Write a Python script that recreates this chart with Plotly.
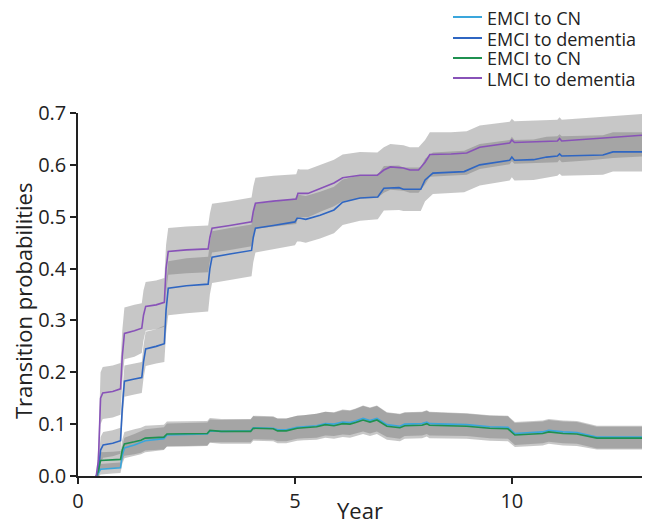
import plotly.graph_objects as go

# ---------------- data ----------------
# LMCI to dementia (purple)
t_p = [0.42, 0.47, 0.52, 0.57, 0.8, 0.98, 1.02, 1.07, 1.3, 1.47,
       1.51, 1.56, 1.8, 1.99, 2.03, 2.08, 2.5, 3.0, 3.04, 3.09,
       3.5, 4.0, 4.04, 4.09, 4.5, 5.03, 5.07, 5.12, 5.3, 5.6,
       5.9, 6.1, 6.5, 6.9, 7.05, 7.2, 7.5, 7.65, 7.85, 8.0,
       8.11, 8.6, 8.96, 9.26, 9.95, 10.0, 10.06, 11.05, 11.1, 11.15,
       11.8, 12.33, 13.0]
y_p = [0.0, 0.03, 0.15, 0.16, 0.163, 0.168, 0.23, 0.275, 0.28, 0.285,
       0.31, 0.327, 0.33, 0.335, 0.40, 0.433, 0.436, 0.438, 0.46, 0.478,
       0.483, 0.49, 0.51, 0.526, 0.53, 0.534, 0.545, 0.545, 0.545, 0.555,
       0.565, 0.575, 0.58, 0.58, 0.59, 0.596, 0.594, 0.59, 0.59, 0.605,
       0.62, 0.621, 0.623, 0.634, 0.642, 0.648, 0.643, 0.646, 0.651, 0.646,
       0.65, 0.654, 0.657]
ci_p = [0.0, 0.03, 0.05, 0.05, 0.05, 0.05, 0.05, 0.05, 0.05, 0.048,
        0.048, 0.047, 0.047, 0.047, 0.046, 0.045, 0.045, 0.045, 0.046, 0.047,
        0.047, 0.047, 0.048, 0.049, 0.049, 0.048, 0.047, 0.046, 0.046, 0.045,
        0.045, 0.045, 0.045, 0.044, 0.044, 0.044, 0.044, 0.044, 0.044, 0.043,
        0.043, 0.042, 0.042, 0.042, 0.041, 0.041, 0.041, 0.041, 0.041, 0.041,
        0.041, 0.041, 0.041]

# EMCI to dementia (blue)
t_b = [0.42, 0.47, 0.52, 0.58, 0.8, 0.98, 1.02, 1.07, 1.3, 1.47,
       1.51, 1.56, 1.8, 1.99, 2.03, 2.08, 2.5, 3.0, 3.04, 3.09,
       3.5, 4.0, 4.04, 4.09, 4.5, 5.0, 5.05, 5.12, 5.25, 5.58,
       5.9, 6.1, 6.5, 6.91, 7.05, 7.4, 7.5, 7.55, 7.9, 8.0,
       8.18, 8.9, 9.26, 9.95, 10.0, 10.06, 10.5, 10.8, 11.05, 11.1,
       11.15, 12.1, 12.33, 13.0]
y_b = [0.0, 0.01, 0.05, 0.06, 0.063, 0.068, 0.13, 0.183, 0.187, 0.19,
       0.22, 0.245, 0.25, 0.255, 0.32, 0.362, 0.367, 0.37, 0.40, 0.422,
       0.428, 0.435, 0.46, 0.478, 0.483, 0.49, 0.497, 0.497, 0.495, 0.503,
       0.513, 0.528, 0.536, 0.538, 0.555, 0.556, 0.553, 0.553, 0.553, 0.571,
       0.584, 0.587, 0.60, 0.609, 0.615, 0.609, 0.61, 0.615, 0.617, 0.621,
       0.617, 0.619, 0.625, 0.625]
ci_b = [0.0, 0.015, 0.025, 0.025, 0.025, 0.025, 0.028, 0.03, 0.03, 0.03,
        0.032, 0.033, 0.033, 0.035, 0.045, 0.052, 0.053, 0.053, 0.05, 0.05,
        0.05, 0.05, 0.048, 0.047, 0.046, 0.045, 0.045, 0.045, 0.045, 0.045,
        0.045, 0.044, 0.044, 0.043, 0.043, 0.043, 0.042, 0.042, 0.042, 0.041,
        0.04, 0.04, 0.04, 0.039, 0.039, 0.039, 0.039, 0.039, 0.038, 0.038,
        0.038, 0.038, 0.038, 0.038]

# EMCI to CN (green and light blue share the time grid)
t_g = [0.42, 0.47, 0.52, 0.8, 0.98, 1.02, 1.07, 1.3, 1.45, 1.55,
       1.98, 2.05, 2.5, 2.98, 3.04, 3.3, 3.98, 4.04, 4.5, 4.6,
       4.8, 5.05, 5.2, 5.5, 5.7, 5.9, 6.1, 6.27, 6.4, 6.57,
       6.73, 6.89, 7.12, 7.42, 7.53, 7.93, 8.04, 8.1, 8.96, 9.19,
       9.49, 9.91, 10.07, 10.71, 10.85, 11.18, 11.5, 11.96, 13.0]
y_g = [0.0, 0.01, 0.03, 0.031, 0.032, 0.05, 0.062, 0.066, 0.069, 0.073,
       0.075, 0.081, 0.081, 0.082, 0.088, 0.086, 0.086, 0.092, 0.091, 0.087,
       0.087, 0.092, 0.093, 0.095, 0.099, 0.097, 0.101, 0.100, 0.103, 0.108,
       0.104, 0.108, 0.096, 0.093, 0.097, 0.098, 0.101, 0.098, 0.096, 0.094,
       0.092, 0.091, 0.079, 0.082, 0.085, 0.082, 0.081, 0.073, 0.073]
ci_g = [0.0, 0.01, 0.016, 0.016, 0.016, 0.02, 0.023, 0.024, 0.024, 0.024,
        0.024, 0.024, 0.024, 0.024, 0.024, 0.024, 0.024, 0.024, 0.024, 0.024,
        0.024, 0.024, 0.024, 0.025, 0.025, 0.025, 0.026, 0.026, 0.026, 0.027,
        0.027, 0.027, 0.026, 0.026, 0.025, 0.025, 0.025, 0.025, 0.024, 0.024,
        0.024, 0.024, 0.023, 0.023, 0.023, 0.023, 0.023, 0.022, 0.022]
y_c = [0.0, 0.005, 0.013, 0.015, 0.016, 0.04, 0.054, 0.06, 0.064, 0.068,
       0.072, 0.079, 0.08, 0.081, 0.087, 0.086, 0.087, 0.093, 0.092, 0.089,
       0.089, 0.094, 0.095, 0.097, 0.101, 0.1, 0.104, 0.103, 0.106, 0.111,
       0.107, 0.111, 0.099, 0.096, 0.1, 0.101, 0.104, 0.101, 0.099, 0.097,
       0.095, 0.094, 0.082, 0.085, 0.088, 0.085, 0.084, 0.075, 0.075]
ci_c = [0.0, 0.008, 0.01, 0.01, 0.01, 0.017, 0.02, 0.021, 0.022, 0.022,
        0.022, 0.022, 0.022, 0.022, 0.022, 0.022, 0.022, 0.022, 0.022, 0.022,
        0.022, 0.022, 0.022, 0.023, 0.023, 0.023, 0.024, 0.024, 0.024, 0.025,
        0.025, 0.025, 0.024, 0.024, 0.023, 0.023, 0.023, 0.023, 0.022, 0.022,
        0.022, 0.022, 0.022, 0.022, 0.022, 0.022, 0.022, 0.022, 0.022]

series_names = ["EMCI to CN", "EMCI to dementia", "EMCI to CN", "LMCI to dementia"]
series_colors = ["#3aa6dc", "#2f66c2", "#1f9150", "#8852b8"]
series_data = [(t_g, y_c, ci_c), (t_b, y_b, ci_b), (t_g, y_g, ci_g), (t_p, y_p, ci_p)]

x_ticks = [0, 5, 10]
y_ticks = [0.0, 0.1, 0.2, 0.3, 0.4, 0.5, 0.6, 0.7]

FONT = "Open Sans"
TXT = "#222222"

fig = go.Figure()

# confidence bands (semi-transparent grey so overlaps darken)
for (t, y, ci) in series_data:
    hi = [v + c for v, c in zip(y, ci)]
    lo = [v - c for v, c in zip(y, ci)]
    fig.add_trace(go.Scatter(
        x=list(t) + list(t)[::-1], y=hi + lo[::-1],
        fill="toself", fillcolor="rgba(115,115,115,0.40)",
        line=dict(width=0), mode="lines", showlegend=False, hoverinfo="skip"))

for name, col, (t, y, ci) in zip(series_names, series_colors, series_data):
    fig.add_trace(go.Scatter(x=t, y=y, mode="lines", name=name, showlegend=False,
                             line=dict(color=col, width=1.6)))

axis_common = dict(showline=True, linecolor="#222222", linewidth=1.5,
                   ticks="outside", ticklen=6, tickwidth=1.5, tickcolor="#222222",
                   showgrid=False, zeroline=False, automargin=False,
                   tickfont=dict(family=FONT, size=20, color=TXT))

fig.update_xaxes(range=[0, 13], tickvals=x_ticks, ticktext=[str(v) for v in x_ticks],
                 **axis_common)
fig.update_yaxes(range=[0, 0.7], tickvals=y_ticks,
                 ticktext=[f"{v:.1f}" for v in y_ticks], **axis_common)

# legend drawn as line swatches + text (tight row spacing like the reference)
PLOT_L, PLOT_R, PLOT_T, PLOT_B = 78, 642, 113, 476
W = PLOT_R - PLOT_L
H = PLOT_B - PLOT_T
def px_x(px):
    return (px - PLOT_L) / W
def px_y(py):
    return (PLOT_B - py) / H

legend_rows = [17, 38, 58, 78]
shapes = []
annotations = []
for name, col, ry in zip(series_names, series_colors, legend_rows):
    shapes.append(dict(type="line", xref="paper", yref="paper",
                       x0=px_x(453), x1=px_x(482), y0=px_y(ry), y1=px_y(ry),
                       line=dict(color=col, width=2)))
    annotations.append(dict(text=name, xref="paper", yref="paper",
                            x=px_x(486), y=px_y(ry), xanchor="left", yanchor="middle",
                            height=19, valign="middle", borderpad=0,
                            showarrow=False,
                            font=dict(family=FONT, size=18, color=TXT)))

annotations.append(dict(text="Year", xref="paper", yref="paper", x=0.5, y=px_y(527),
                        xanchor="center", yanchor="bottom", showarrow=False,
                        font=dict(family=FONT, size=22, color=TXT)))
annotations.append(dict(text="Transition probabilities", xref="paper", yref="paper",
                        x=px_x(23), y=px_y(301), xanchor="center", yanchor="middle",
                        textangle=-90, showarrow=False,
                        font=dict(family=FONT, size=22, color=TXT)))

fig.update_layout(
    width=645, height=527,
    margin=dict(l=PLOT_L, r=645 - PLOT_R, t=PLOT_T, b=527 - PLOT_B, autoexpand=False),
    paper_bgcolor="white", plot_bgcolor="white",
    font=dict(family=FONT, color=TXT),
    showlegend=False,
    shapes=shapes,
    annotations=annotations,
)

fig.write_html("out.html",
               config={"displayModeBar": False},
               post_script="document.body.style.margin='0';"
                           "document.body.style.overflow='hidden';")
